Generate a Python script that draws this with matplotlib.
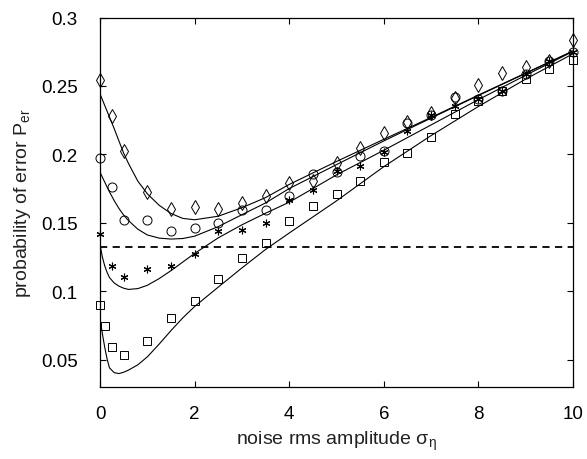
import matplotlib
matplotlib.use("Agg")
import matplotlib.pyplot as plt

plt.rcParams['font.family'] = ['Liberation Sans', 'DejaVu Sans']
plt.rcParams['mathtext.fontset'] = 'custom'
plt.rcParams['mathtext.rm'] = 'Liberation Sans'
plt.rcParams['mathtext.it'] = 'Liberation Sans:italic'
plt.rcParams['mathtext.bf'] = 'Liberation Sans:bold'

# ---- simulated points (markers) ----
x_pts = [0, 0.25, 0.5, 1, 1.5, 2, 2.5, 3, 3.5, 4, 4.5, 5, 5.5, 6, 6.5, 7, 7.5, 8, 8.5, 9, 9.5, 10]
diamond_vals = [0.2546, 0.2283, 0.2023, 0.1724, 0.1602, 0.1614, 0.1602, 0.1648, 0.1699, 0.1794,
                0.1804, 0.1940, 0.2045, 0.2156, 0.2235, 0.2300, 0.2415, 0.2505, 0.2595, 0.2640,
                0.2685, 0.2835]
circle_vals = [0.1974, 0.1761, 0.1522, 0.1517, 0.1439, 0.1461, 0.1498, 0.1595, 0.1597, 0.1699,
               0.1858, 0.1868, 0.1985, 0.2023, 0.2228, 0.2288, 0.2422, 0.2405, 0.2466, 0.2588,
               0.2685, 0.2746]
star_vals = [0.1420, 0.1184, 0.1104, 0.1159, 0.1181, 0.1274, 0.1439, 0.1449, 0.1500, 0.1668,
             0.1741, 0.1882, 0.1918, 0.2016, 0.2174, 0.2288, 0.2356, 0.2405, 0.2466, 0.2588,
             0.2685, 0.2746]
x_sq = [0, 0.1, 0.25, 0.5, 1, 1.5, 2, 2.5, 3, 3.5, 4, 4.5, 5, 5.5, 6, 6.5, 7, 7.5, 8, 8.5, 9, 9.5, 10]
square_vals = [0.0901, 0.0743, 0.0593, 0.0531, 0.0634, 0.0807, 0.0928, 0.1086, 0.1239, 0.1352,
               0.1512, 0.1626, 0.1712, 0.1804, 0.1947, 0.2011, 0.2126, 0.2296, 0.2390, 0.2460,
               0.2551, 0.2624, 0.2686]

# ---- theoretical curves ----
x_curve = [0, 0.05, 0.1, 0.15, 0.2, 0.3, 0.4, 0.5, 0.6, 0.8, 1.0, 1.25, 1.5, 1.75, 2.0,
           2.5, 3.0, 3.5, 4.0, 5.0, 6.0, 7.0, 8.0, 9.0, 10.0]
curve_diamond = [0.2442, 0.2400, 0.2357, 0.2315, 0.2273, 0.2188, 0.2098, 0.2009, 0.1935, 0.1804,
                 0.1712, 0.1628, 0.1568, 0.1532, 0.1522, 0.1548, 0.1610, 0.1684, 0.1780, 0.1948,
                 0.2110, 0.2270, 0.2433, 0.2594, 0.2755]
curve_circle = [0.1870, 0.1833, 0.1797, 0.1761, 0.1726, 0.1662, 0.1605, 0.1556, 0.1517, 0.1453,
                0.1411, 0.1388, 0.1381, 0.1385, 0.1402, 0.1472, 0.1559, 0.1645, 0.1750, 0.1925,
                0.2098, 0.2265, 0.2430, 0.2592, 0.2755]
curve_star = [0.1340, 0.1250, 0.1185, 0.1137, 0.1100, 0.1060, 0.1037, 0.1022, 0.1013, 0.1019,
              0.1043, 0.1092, 0.1150, 0.1213, 0.1276, 0.1390, 0.1485, 0.1570, 0.1650, 0.1850,
              0.2030, 0.2215, 0.2400, 0.2578, 0.2752]
curve_square = [0.0800, 0.0690, 0.0590, 0.0505, 0.0440, 0.0405, 0.0398, 0.0408, 0.0423, 0.0462,
                0.0520, 0.0613, 0.0712, 0.0805, 0.0888, 0.1030, 0.1170, 0.1305, 0.1425, 0.1660,
                0.1910, 0.2137, 0.2350, 0.2550, 0.2735]

threshold = 0.1323

xticks = [0, 2, 4, 6, 8, 10]
yticks = [0.05, 0.1, 0.15, 0.2, 0.25, 0.3]
ytick_labels = ['0.05', '0.1', '0.15', '0.2', '0.25', '0.3']

fig = plt.figure(figsize=(5.87, 4.60), dpi=100)
ax = fig.add_axes([100/587, 1-388/460, (573-100)/587, (388-18.5)/460])

lw = 0.8
for cv in (curve_diamond, curve_circle, curve_star, curve_square):
    ax.plot(x_curve, cv, color='black', lw=lw)

ax.axhline(threshold, color='black', lw=1.3, ls=(0, (4, 3)))

ms_kw = dict(ls='none', mfc='none', mec='black', mew=0.7, clip_on=False)
ax.plot(x_pts, diamond_vals, marker='d', ms=7, **ms_kw)
ax.plot(x_pts, circle_vals, marker='o', ms=6.5, **ms_kw)
ax.plot(x_pts, star_vals, marker=(6, 2, 0), ms=5.5, ls='none', color='black', mew=0.8, clip_on=False)
ax.plot(x_sq, square_vals, marker='s', ms=5.2, **ms_kw)

ax.set_xlim(0, 10)
ax.set_ylim(0.03, 0.3)
ax.set_xticks(xticks)
ax.set_xticklabels([str(t) for t in xticks])
ax.set_yticks(yticks)
ax.set_yticklabels(ytick_labels)
ax.tick_params(direction='in', top=True, right=True, length=4, width=0.8,
               labelsize=13.5, colors='black')
ax.tick_params(axis='x', pad=13)
ax.tick_params(axis='y', pad=16)
for s in ax.spines.values():
    s.set_linewidth(0.9)

ax.set_xlabel(r'noise rms amplitude $\mathregular{\sigma_\eta}$', fontsize=14, labelpad=5, color='#222222')
ax.set_ylabel(r'probability of error $\mathregular{P_{er}}$', fontsize=14, labelpad=6, color='#222222')

fig.savefig('out.png', dpi=100)
